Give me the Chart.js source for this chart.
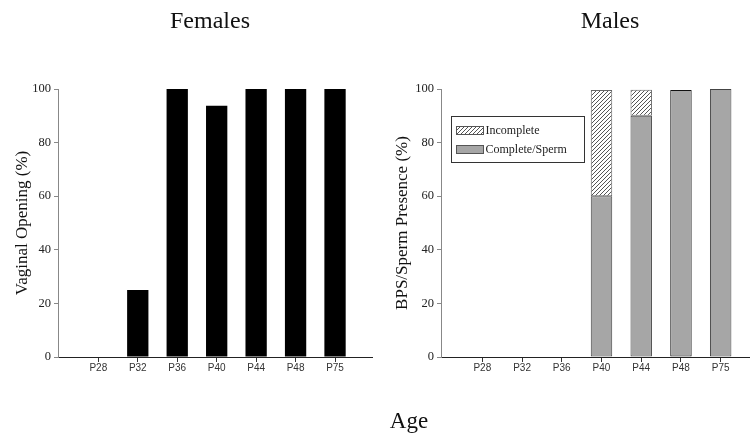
<!DOCTYPE html>
<html><head><meta charset="utf-8">
<script src="https://cdn.jsdelivr.net/npm/chart.js@4/dist/chart.umd.min.js"></script>
<style>
html,body{margin:0;padding:0;background:#fff;}
#wrap{position:relative;width:750px;height:437px;overflow:hidden;background:#fff;}
.c{position:absolute;top:0;}
.t{position:absolute;font-family:"Liberation Serif","Times New Roman",serif;color:#111;line-height:1;white-space:nowrap;transform:translateX(-50%);}
</style></head>
<body><div id="wrap">
<canvas id="f" class="c" style="left:0" width="375" height="437"></canvas>
<canvas id="m" class="c" style="left:375px" width="375" height="437"></canvas>
<div class="t" style="left:210px;top:8px;font-size:24px">Females</div>
<div class="t" style="left:610px;top:8px;font-size:24px">Males</div>
<div class="t" style="left:409px;top:409px;font-size:23px">Age</div>
</div>
<script>
const ages = ['P28','P32','P36','P40','P44','P48','P75'];
const femaleOpening = [0, 25, 100, 93.75, 100, 100, 100];
const maleComplete = [0, 0, 0, 60, 90, 99.6, 100];
const maleIncomplete = [0, 0, 0, 39.6, 9.7, 0, 0];
const yTicks = [0, 20, 40, 60, 80, 100];

const serif = '"Liberation Serif","Times New Roman",serif';
const sans = '"Liberation Sans",Arial,sans-serif';

function pts(arr){ return ages.map((a,i)=>({x:i, y:arr[i]})); }

function makeHatch(ctx){
  const c = document.createElement('canvas'); c.width = 4; c.height = 4;
  const g = c.getContext('2d');
  g.fillStyle = '#fff'; g.fillRect(0,0,4,4);
  g.strokeStyle = '#555'; g.lineWidth = 1;
  g.beginPath();
  g.moveTo(-1,5); g.lineTo(5,-1);
  g.moveTo(-1,1); g.lineTo(1,-1);
  g.moveTo(3,5); g.lineTo(5,3);
  g.stroke();
  return ctx.createPattern(c,'repeat');
}

function xScale(min, max, borderColor){
  return {
    type:'linear', min:min, max:max, stacked:true, offset:false,
    afterBuildTicks: s => { s.ticks = ages.map((_,i)=>({value:i})); },
    afterFit: s => { s.height = 80; },
    ticks:{ autoSkip:false, maxRotation:0, padding:0, color:'#333',
      font:{family:sans, size:10}, callback: v => ages[v] },
    grid:{ offset:false, drawOnChartArea:false, drawTicks:true, tickLength:5, color:'#333' },
    border:{ display:true, color:borderColor, width:1 }
  };
}
function yScale(width, title, titlePad){
  return {
    type:'linear', min:0, max:100, stacked:true,
    afterBuildTicks: s => { s.ticks = yTicks.map(v=>({value:v})); },
    afterFit: s => { s.width = width; },
    ticks:{ padding:3, color:'#222', font:{family:serif, size:12.5} },
    grid:{ drawOnChartArea:false, drawTicks:true, tickLength:4, color:'#888' },
    border:{ display:true, color:'#888', width:1 },
    title:{ display:true, text:title, color:'#111', padding:{top:titlePad, bottom:0},
      font:{family:serif, size:17} }
  };
}

new Chart(document.getElementById('f'), {
  type:'bar',
  data:{ datasets:[{ label:'Vaginal Opening', data:pts(femaleOpening),
    backgroundColor:'#000', borderWidth:0,
    categoryPercentage:1, barPercentage:0.54 }]},
  options:{
    responsive:false, animation:false,
    layout:{ padding:{left:0, right:3, top:89, bottom:0} },
    plugins:{ legend:{display:false}, tooltip:{enabled:false} },
    scales:{ x:xScale(-1.022, 6.937, '#222'), y:yScale(58, 'Vaginal Opening (%)', 12) }
  }
});

const mctx = document.getElementById('m').getContext('2d');
const hatch = makeHatch(mctx);

const boxLegend = {
  id:'boxLegend',
  afterDatasetsDraw(chart){
    const {ctx, chartArea} = chart;
    const L = chartArea.left + 10.5, T = chartArea.top + 27.5, W = 133, H = 46;
    ctx.save();
    ctx.fillStyle = '#fff'; ctx.fillRect(L, T, W, H);
    ctx.strokeStyle = '#333'; ctx.lineWidth = 1; ctx.strokeRect(L, T, W, H);
    const items = chart.data.datasets.slice().reverse();
    items.forEach((ds, k) => {
      const sy = T + 10 + k*19;
      ctx.fillStyle = ds.backgroundColor; ctx.fillRect(L+5, sy, 27, 8);
      ctx.strokeStyle = '#555'; ctx.lineWidth = 1; ctx.strokeRect(L+5, sy, 27, 8);
      ctx.fillStyle = '#222'; ctx.font = '12px ' + serif; ctx.textBaseline = 'alphabetic';
      ctx.fillText(ds.label, L+34, sy + 7.5);
    });
    ctx.restore();
  }
};

new Chart(mctx, {
  type:'bar',
  data:{ datasets:[
    { label:'Complete/Sperm', data:pts(maleComplete), backgroundColor:'#a6a6a6',
      borderColor:['#444','#444','#444','#444','#444','#111','#444'], borderWidth:1, borderSkipped:false,
      categoryPercentage:1, barPercentage:0.54 },
    { label:'Incomplete', data:pts(maleIncomplete), backgroundColor:hatch,
      borderColor:'#666', borderWidth:1, borderSkipped:false,
      categoryPercentage:1, barPercentage:0.54 }
  ]},
  options:{
    responsive:false, animation:false,
    layout:{ padding:{left:0, right:0, top:89, bottom:0} },
    plugins:{ legend:{display:false}, tooltip:{enabled:false} },
    scales:{ x:xScale(-1.04, 6.738, '#222'), y:yScale(66, 'BPS/Sperm Presence (%)', 17) }
  },
  plugins:[boxLegend]
});
</script>
</body></html>
